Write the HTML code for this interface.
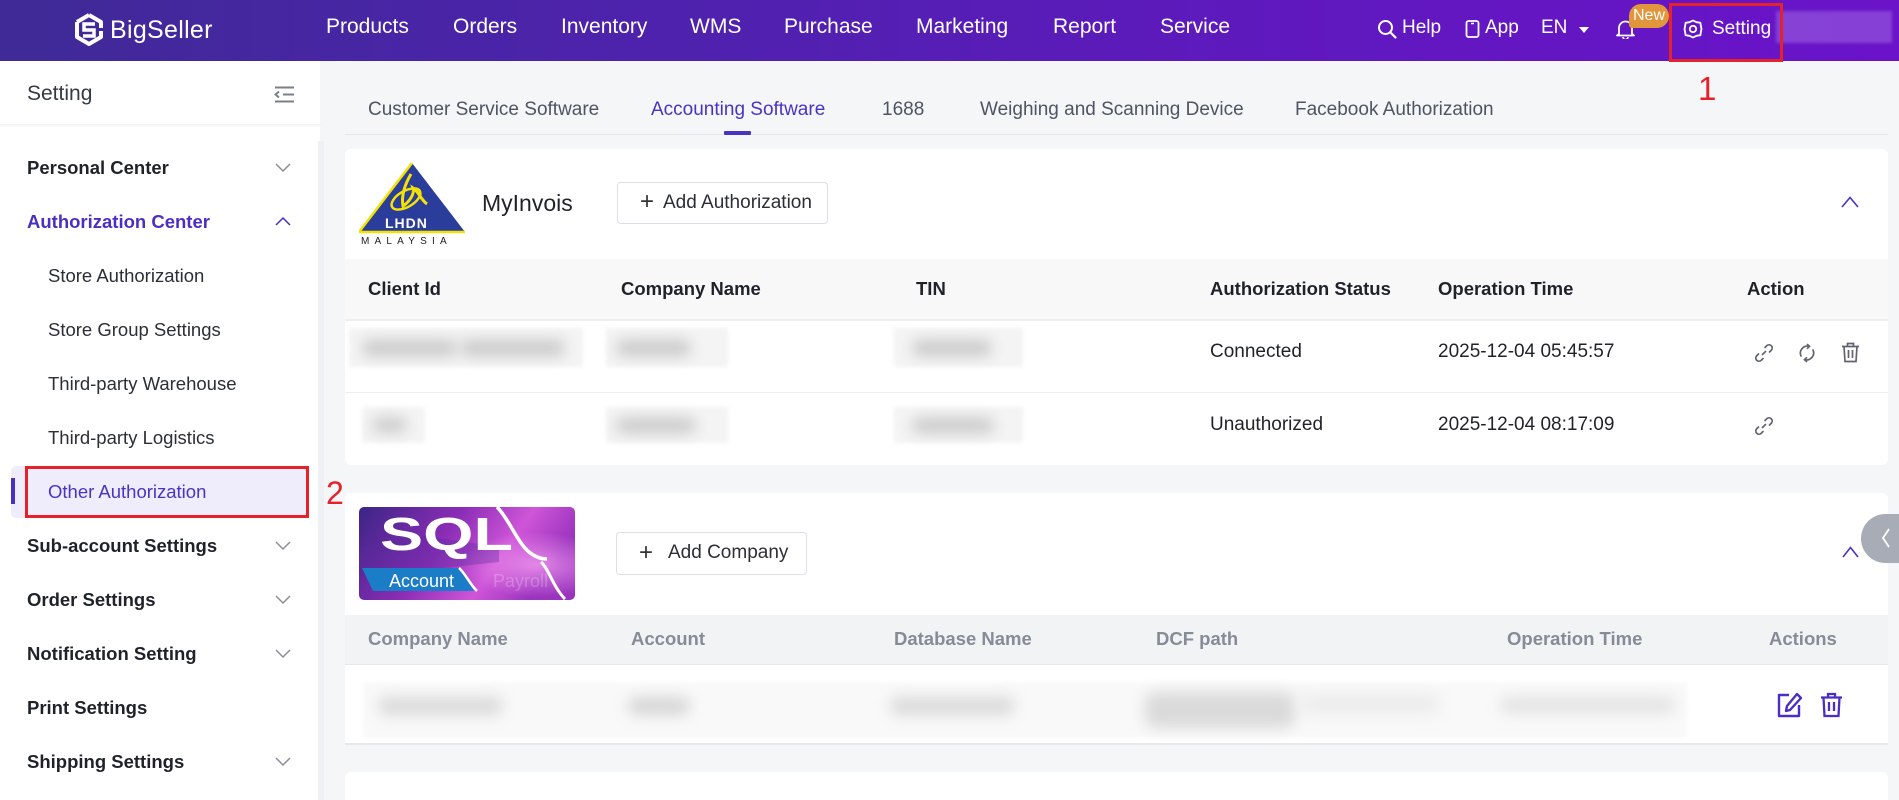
<!DOCTYPE html>
<html><head><meta charset="utf-8">
<style>
*{margin:0;padding:0;box-sizing:border-box}
html,body{width:1899px;height:800px;overflow:hidden;background:#f5f6f8;font-family:"Liberation Sans",Arial,sans-serif;position:relative}
.a{position:absolute}
.t{position:absolute;white-space:nowrap;line-height:30px;height:30px}
.hdr{left:0;top:0;width:1899px;height:61px;background:linear-gradient(90deg,#3f2a97 0%,#4e22ad 35%,#5e19bd 65%,#6a13c9 100%)}
.nav{color:#fff;font-size:21px;top:12px}
.rt{color:#fff;font-size:19px;top:13px}
.side{left:0;top:61px;width:320px;height:739px;background:#fff}
.pm{font-size:18.5px;font-weight:bold;color:#1f2329;left:27px}
.ch{font-size:18.5px;color:#2b2f36;left:48px}
.chev{position:absolute;left:275px;width:16px;height:9px}
.tab{font-size:19px;color:#4e5562;top:95px}
.card{background:#fff;border-radius:6px;left:345px;width:1543px}
.th{font-size:18.5px;font-weight:bold;color:#1f2329}
.th2{font-size:18.5px;font-weight:bold;color:#868c97}
.td{font-size:19px;color:#1f2329}
.btn{position:absolute;border:1px solid #dcdfe6;border-radius:4px;background:#fff}
.blur{position:absolute;background:#c9c9c9;filter:blur(7px);border-radius:10px}
.haze{position:absolute;background:#f4f4f5;filter:blur(2px)}
</style></head><body>

<!-- HEADER -->
<div class="a hdr"></div>
<svg class="a" style="left:73px;top:13px" width="32" height="33" viewBox="0 0 32 33">
 <path d="M16 2 L28 9 L28 15 M4 9 L16 2 M4 9 L4 24 L16 31 L28 24 L28 18" fill="none" stroke="#fff" stroke-width="4" stroke-linejoin="round"/>
 <path d="M22 11 L11 11 L11 17 L21 17 L21 23 L10 23" fill="none" stroke="#fff" stroke-width="3.5"/>
</svg>
<div class="t" style="left:110px;top:15px;color:#fff;font-size:25px;letter-spacing:0.3px">BigSeller</div>

<div class="t nav" style="left:326px">Products</div>
<div class="t nav" style="left:453px">Orders</div>
<div class="t nav" style="left:561px">Inventory</div>
<div class="t nav" style="left:690px">WMS</div>
<div class="t nav" style="left:784px">Purchase</div>
<div class="t nav" style="left:916px">Marketing</div>
<div class="t nav" style="left:1053px">Report</div>
<div class="t nav" style="left:1160px">Service</div>

<svg class="a" style="left:1377px;top:19px" width="21" height="20" viewBox="0 0 21 20"><circle cx="8.5" cy="8.5" r="6.5" fill="none" stroke="#fff" stroke-width="2"/><path d="M13.5 13.5 L18.5 18.5" stroke="#fff" stroke-width="2.2" stroke-linecap="round"/></svg>
<div class="t rt" style="left:1402px">Help</div>
<svg class="a" style="left:1465px;top:20px" width="15" height="18" viewBox="0 0 15 18"><rect x="1.5" y="1" width="12" height="16" rx="2" fill="none" stroke="#fff" stroke-width="1.8"/><path d="M6 3.5 H9" stroke="#fff" stroke-width="1.5"/></svg>
<div class="t rt" style="left:1485px">App</div>
<div class="t rt" style="left:1541px">EN</div>
<svg class="a" style="left:1579px;top:27px" width="10" height="6" viewBox="0 0 10 6"><path d="M0 0 H10 L5 6 Z" fill="#fff"/></svg>
<svg class="a" style="left:1615px;top:20px" width="21" height="19" viewBox="0 0 21 19"><path d="M4 14 V8 A6.5 6.5 0 0 1 17 8 V14 L19 15.5 H2 Z" fill="none" stroke="#fff" stroke-width="1.8" stroke-linejoin="round"/><path d="M8 17 A2.5 2.5 0 0 0 13 17" fill="none" stroke="#fff" stroke-width="1.6"/></svg>
<div class="a" style="left:1629px;top:4px;width:40px;height:24px;background:#e2963c;border-radius:12px 12px 12px 3px;color:#fff;font-size:16px;line-height:24px;text-align:center">New</div>
<svg class="a" style="left:1683px;top:19px" width="20" height="20" viewBox="0 0 20 20"><path d="M10 1.5 L13.5 3.2 L17.4 3.8 L18 7.7 L18.5 10 L18 12.3 L17.4 16.2 L13.5 16.8 L10 18.5 L6.5 16.8 L2.6 16.2 L2 12.3 L1.5 10 L2 7.7 L2.6 3.8 L6.5 3.2 Z" fill="none" stroke="#fff" stroke-width="1.8" stroke-linejoin="round"/><circle cx="10" cy="10" r="3.2" fill="none" stroke="#fff" stroke-width="1.8"/></svg>
<div class="t rt" style="left:1712px;top:14px">Setting</div>
<div class="a" style="left:1776px;top:11px;width:116px;height:32px;background:rgba(170,120,230,0.45);filter:blur(1.5px)"></div>
<div class="a" style="left:1669px;top:3px;width:114px;height:59px;border:3px solid #e5222a"></div>

<!-- SIDEBAR -->
<div class="a side"></div>
<div class="a" style="left:0;top:124px;width:321px;height:3px;background:linear-gradient(#eceef1,#fff)"></div>
<div class="a" style="left:318px;top:141px;width:6px;height:659px;background:#eef0f3"></div>
<div class="t" style="left:27px;top:79px;font-size:21px;color:#343a44">Setting</div>
<svg class="a" style="left:274px;top:86px" width="21" height="17" viewBox="0 0 21 17"><path d="M1 1.5 H20 M9 8.5 H20 M1 15.5 H20" stroke="#7a808b" stroke-width="2"/><path d="M5 5.5 L1.5 8.5 L5 11.5" fill="none" stroke="#7a808b" stroke-width="2"/></svg>

<div class="t pm" style="top:153px">Personal Center</div>
<svg class="chev" style="top:163px" viewBox="0 0 16 9"><path d="M1 1 L8 8 L15 1" fill="none" stroke="#8a8f99" stroke-width="1.5"/></svg>
<div class="t pm" style="top:207px;color:#4b2fc4">Authorization Center</div>
<svg class="chev" style="top:217px" viewBox="0 0 16 9"><path d="M1 8 L8 1 L15 8" fill="none" stroke="#4b2fc4" stroke-width="1.5"/></svg>
<div class="t ch" style="top:261px">Store Authorization</div>
<div class="t ch" style="top:315px">Store Group Settings</div>
<div class="t ch" style="top:369px">Third-party Warehouse</div>
<div class="t ch" style="top:423px">Third-party Logistics</div>
<div class="a" style="left:11px;top:466px;width:297px;height:52px;background:#efedfc;border-radius:5px"></div>
<div class="a" style="left:11px;top:478px;width:4px;height:26px;background:#4a30c0"></div>
<div class="t ch" style="top:477px;color:#4b33c2">Other Authorization</div>
<div class="a" style="left:25px;top:466px;width:284px;height:52px;border:3px solid #e5222a"></div>
<div class="t" style="left:326px;top:475px;font-size:32px;line-height:36px;height:36px;color:#e5222a">2</div>
<div class="t pm" style="top:531px">Sub-account Settings</div>
<svg class="chev" style="top:541px" viewBox="0 0 16 9"><path d="M1 1 L8 8 L15 1" fill="none" stroke="#8a8f99" stroke-width="1.5"/></svg>
<div class="t pm" style="top:585px">Order Settings</div>
<svg class="chev" style="top:595px" viewBox="0 0 16 9"><path d="M1 1 L8 8 L15 1" fill="none" stroke="#8a8f99" stroke-width="1.5"/></svg>
<div class="t pm" style="top:639px">Notification Setting</div>
<svg class="chev" style="top:649px" viewBox="0 0 16 9"><path d="M1 1 L8 8 L15 1" fill="none" stroke="#8a8f99" stroke-width="1.5"/></svg>
<div class="t pm" style="top:693px">Print Settings</div>
<div class="t pm" style="top:747px">Shipping Settings</div>
<svg class="chev" style="top:757px" viewBox="0 0 16 9"><path d="M1 1 L8 8 L15 1" fill="none" stroke="#8a8f99" stroke-width="1.5"/></svg>

<!-- TABS -->
<div class="t tab" style="left:368px">Customer Service Software</div>
<div class="t tab" style="left:651px;color:#4b33c2">Accounting Software</div>
<div class="t tab" style="left:882px">1688</div>
<div class="t tab" style="left:980px">Weighing and Scanning Device</div>
<div class="t tab" style="left:1295px">Facebook Authorization</div>
<div class="a" style="left:345px;top:134px;width:1543px;height:1px;background:#e6e8eb"></div>
<div class="a" style="left:724px;top:131px;width:27px;height:4px;background:#4b33c2;border-radius:1px"></div>
<div class="t" style="left:1698px;top:71px;font-size:33px;line-height:36px;height:36px;color:#e5222a">1</div>

<!-- CARD 1 -->
<div class="a card" style="top:149px;height:316px"></div>
<svg class="a" style="left:359px;top:162px" width="110" height="86" viewBox="0 0 110 86">
 <polygon points="53,1 0,70 106,70" fill="#2b3d9b"/>
 <polyline points="53,1 0,70 106,70" fill="none" stroke="#f2e205" stroke-width="2.5"/>
 <ellipse cx="47" cy="37" rx="16" ry="8" transform="rotate(-30 47 37)" fill="none" stroke="#f2e205" stroke-width="2.5"/>
 <path d="M52 12 C46 22,42 34,44 44 C50 40,56 32,54 26 C60 30,62 38,68 42" fill="none" stroke="#f2e205" stroke-width="3"/>
 <text x="26" y="66" font-family="Liberation Sans" font-weight="bold" font-size="14" fill="#fff" letter-spacing="1">LHDN</text>
 <text x="2" y="82" font-family="Liberation Sans" font-size="10" fill="#222" letter-spacing="5.2">MALAYSIA</text>
</svg>
<div class="t" style="left:482px;top:188px;font-size:23px;color:#1f2329">MyInvois</div>
<div class="btn" style="left:617px;top:182px;width:211px;height:42px"></div>
<div class="t" style="left:640px;top:187px;font-size:24px;color:#333">+</div>
<div class="t" style="left:663px;top:188px;font-size:19px;color:#2b2f36">Add Authorization</div>
<svg class="a" style="left:1841px;top:196px" width="18" height="12" viewBox="0 0 18 12"><path d="M1 11 L9 1.5 L17 11" fill="none" stroke="#4b33c2" stroke-width="1.6"/></svg>

<div class="a" style="left:345px;top:259px;width:1543px;height:61px;background:#f8f8f9"></div>
<div class="a" style="left:345px;top:319px;width:1543px;height:2px;background:#eeeff1"></div>
<div class="a" style="left:345px;top:392px;width:1543px;height:1px;background:#eeeeef"></div>
<div class="t th" style="left:368px;top:274px">Client Id</div>
<div class="t th" style="left:621px;top:274px">Company Name</div>
<div class="t th" style="left:916px;top:274px">TIN</div>
<div class="t th" style="left:1210px;top:274px">Authorization Status</div>
<div class="t th" style="left:1438px;top:274px">Operation Time</div>
<div class="t th" style="left:1747px;top:274px">Action</div>

<!-- row blurs -->
<div class="haze" style="left:349px;top:328px;width:234px;height:39px"></div>
<div class="blur" style="left:362px;top:340px;width:95px;height:16px"></div>
<div class="blur" style="left:460px;top:340px;width:105px;height:16px"></div>
<div class="haze" style="left:606px;top:328px;width:122px;height:39px"></div>
<div class="blur" style="left:616px;top:340px;width:75px;height:16px"></div>
<div class="haze" style="left:894px;top:328px;width:129px;height:39px"></div>
<div class="blur" style="left:912px;top:340px;width:80px;height:16px"></div>
<div class="haze" style="left:362px;top:407px;width:63px;height:36px"></div>
<div class="blur" style="left:372px;top:418px;width:35px;height:14px"></div>
<div class="haze" style="left:606px;top:407px;width:122px;height:36px"></div>
<div class="blur" style="left:616px;top:418px;width:80px;height:15px"></div>
<div class="haze" style="left:894px;top:407px;width:129px;height:36px"></div>
<div class="blur" style="left:912px;top:418px;width:82px;height:15px"></div>

<div class="t td" style="left:1210px;top:337px">Connected</div>
<div class="t td" style="left:1438px;top:337px">2025-12-04 05:45:57</div>
<div class="t td" style="left:1210px;top:410px">Unauthorized</div>
<div class="t td" style="left:1438px;top:410px">2025-12-04 08:17:09</div>

<svg class="a" style="left:1754px;top:343px" width="20" height="20" viewBox="0 0 20 20"><g fill="none" stroke="#5f6470" stroke-width="1.7" stroke-linecap="round"><path d="M8.5 11.5 L11.5 8.5"/><path d="M11 4.5 L13 2.5 A3.2 3.2 0 0 1 17.5 7 L15.5 9"/><path d="M9 15.5 L7 17.5 A3.2 3.2 0 0 1 2.5 13 L4.5 11"/></g></svg>
<svg class="a" style="left:1797px;top:343px" width="20" height="20" viewBox="0 0 20 20"><g fill="none" stroke="#5f6470" stroke-width="1.7" stroke-linecap="round"><path d="M4 13 A7 7 0 0 1 12 3.3"/><path d="M16 7 A7 7 0 0 1 8 16.7"/><path d="M10.5 1.5 L12.5 3.3 L10.5 5.3"/><path d="M9.5 18.5 L7.5 16.7 L9.5 14.7"/></g></svg>
<svg class="a" style="left:1841px;top:342px" width="19" height="21" viewBox="0 0 19 21"><g fill="none" stroke="#5f6470" stroke-width="1.7"><path d="M1 4.5 H18"/><path d="M6.5 4.5 V1.5 H12.5 V4.5"/><path d="M3 4.5 L4 19.5 H15 L16 4.5"/><path d="M7.5 8 V16 M11.5 8 V16"/></g></svg>
<svg class="a" style="left:1754px;top:416px" width="20" height="20" viewBox="0 0 20 20"><g fill="none" stroke="#5f6470" stroke-width="1.7" stroke-linecap="round"><path d="M8.5 11.5 L11.5 8.5"/><path d="M11 4.5 L13 2.5 A3.2 3.2 0 0 1 17.5 7 L15.5 9"/><path d="M9 15.5 L7 17.5 A3.2 3.2 0 0 1 2.5 13 L4.5 11"/></g></svg>

<!-- CARD 2 -->
<div class="a card" style="top:493px;height:252px;border-bottom:2px solid #e6e8ec;border-radius:6px 6px 0 0"></div>
<svg class="a" style="left:359px;top:507px" width="216" height="93" viewBox="0 0 216 93">
 <defs>
  <linearGradient id="g1" x1="0" y1="0" x2="1" y2="0.3">
   <stop offset="0" stop-color="#3a2585"/><stop offset="0.45" stop-color="#8b2db6"/><stop offset="0.75" stop-color="#cf55d8"/><stop offset="1" stop-color="#9a34be"/>
  </linearGradient>
  <radialGradient id="g2" cx="0.82" cy="0.62" r="0.35"><stop offset="0" stop-color="#f39af0" stop-opacity="0.8"/><stop offset="1" stop-color="#f39af0" stop-opacity="0"/></radialGradient>
 </defs>
 <rect width="216" height="93" rx="5" fill="url(#g1)"/>
 <rect width="216" height="93" rx="5" fill="url(#g2)"/>
 <path d="M0 40 L60 28 L140 40 L140 55 L0 70 Z" fill="#5a2a9e" opacity="0.35"/>
 <path d="M138 0 C150 12,158 35,170 45 C176 50,182 52,188 52" fill="none" stroke="#fff" stroke-width="3.5"/>
 <path d="M182 55 C190 62,194 80,206 92" fill="none" stroke="#fff" stroke-width="3"/>
 <text x="21" y="43" font-family="Liberation Sans" font-weight="bold" font-size="46" fill="#fff" textLength="133" lengthAdjust="spacingAndGlyphs">SQL</text>
 <polygon points="3,61 100,61 115,84 14,84" fill="#1b7dc8"/>
 <path d="M100 61 C106 66,110 76,118 84" fill="none" stroke="#fff" stroke-width="2.5"/>
 <text x="30" y="80" font-family="Liberation Sans" font-size="18" fill="#fff">Account</text>
 <text x="134" y="80" font-family="Liberation Sans" font-size="18" fill="#fff" opacity="0.22">Payroll</text>
</svg>
<div class="btn" style="left:616px;top:532px;width:191px;height:43px"></div>
<div class="t" style="left:639px;top:538px;font-size:24px;color:#333">+</div>
<div class="t" style="left:668px;top:538px;font-size:19px;color:#2b2f36">Add Company</div>
<svg class="a" style="left:1842px;top:546px" width="17" height="12" viewBox="0 0 17 12"><path d="M1 11 L8.5 1.5 L16 11" fill="none" stroke="#4b33c2" stroke-width="1.6"/></svg>

<div class="a" style="left:345px;top:615px;width:1543px;height:50px;background:#f2f3f5"></div>
<div class="a" style="left:345px;top:664px;width:1543px;height:1px;background:#e6e8ec"></div>
<div class="t th2" style="left:368px;top:624px">Company Name</div>
<div class="t th2" style="left:631px;top:624px">Account</div>
<div class="t th2" style="left:894px;top:624px">Database Name</div>
<div class="t th2" style="left:1156px;top:624px">DCF path</div>
<div class="t th2" style="left:1507px;top:624px">Operation Time</div>
<div class="t th2" style="left:1769px;top:624px">Actions</div>

<div class="haze" style="left:363px;top:682px;width:1324px;height:56px;background:#f9f9fa"></div>
<div class="blur" style="left:378px;top:697px;width:125px;height:18px;background:#dadada"></div>
<div class="blur" style="left:628px;top:697px;width:62px;height:18px;background:#d6d6d6"></div>
<div class="blur" style="left:890px;top:697px;width:125px;height:18px;background:#dadada"></div>
<div class="blur" style="left:1145px;top:692px;width:150px;height:36px;background:#dadada"></div>
<div class="blur" style="left:1300px;top:694px;width:140px;height:20px;background:#ececec"></div>
<div class="blur" style="left:1500px;top:697px;width:175px;height:16px;background:#e2e2e2"></div>

<svg class="a" style="left:1776px;top:692px" width="28" height="26" viewBox="0 0 28 26"><g fill="none" stroke="#4b2fc4" stroke-width="2.4" stroke-linejoin="round"><path d="M13 3 H3 V24 H23 V13"/><path d="M21 2 L25 6 L14 18 L10 19 L11 14 Z"/></g></svg>
<svg class="a" style="left:1820px;top:692px" width="23" height="26" viewBox="0 0 23 26"><g fill="none" stroke="#4b2fc4" stroke-width="2.3"><path d="M1 5.5 H22"/><path d="M8 5.5 V2 H15 V5.5"/><path d="M3.5 5.5 L4.5 24 H18.5 L19.5 5.5"/><path d="M9 10 V19 M14 10 V19"/></g></svg>

<!-- side toggle -->
<div class="a" style="left:1861px;top:514px;width:38px;height:49px;background:#a8acb6;border-radius:25px 0 0 25px"></div>
<svg class="a" style="left:1881px;top:528px" width="10" height="20" viewBox="0 0 10 20"><path d="M8 1 L2 10 L8 19" fill="none" stroke="#fff" stroke-width="1.8"/></svg>

<!-- CARD 3 -->
<div class="a card" style="top:772px;height:28px;border-radius:6px 6px 0 0"></div>

</body></html>
